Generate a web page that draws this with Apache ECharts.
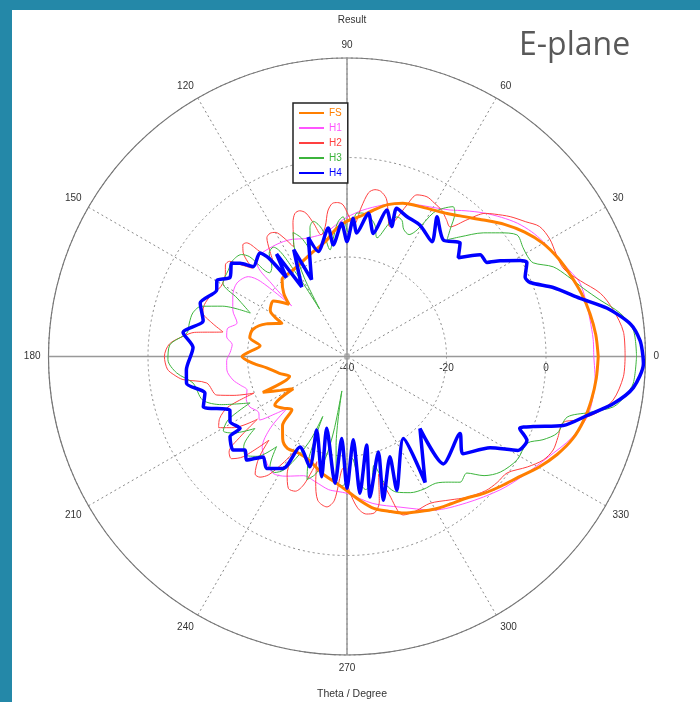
<!DOCTYPE html>
<html>
<head>
<meta charset="utf-8">
<script src="https://cdn.jsdelivr.net/npm/echarts@6/dist/echarts.min.js"></script>
<style>
html, body { margin: 0; padding: 0; background: #fff; }
#main { width: 688px; height: 692px; border-top: 10px solid #2488a8; border-left: 12px solid #2488a8; }
</style>
</head>
<body>
<div id="main"></div>
<script>
// angle in degrees, gain in dB
var fsTheta = [0,5,10,15,20,25,30,35,40,45,50,55,60,65,70,75,80,85,90,95,100,105,110,115,120,125,130,135,138,143,149,153,158,164,169,173,177,180,184,188,194,199,203,207,211,214,219,224,227,232,237,243,250,258,265,270,275,280,285,290,295,300,305,310,315,320,325,330,335,340,345,350,355,360];
var fsDb = [10.5,10.2,9.6,8.8,7.8,6.8,5.5,3.6,1.3,-1.2,-3.3,-4.9,-5.9,-6.6,-7.2,-8.4,-10.2,-11.8,-12.8,-14.3,-16.3,-17.4,-18.2,-18.9,-19.4,-19.6,-19.7,-22,-24.3,-21.5,-22,-25.3,-22.5,-20.3,-20.1,-22.4,-20.5,-18.9,-21,-23.7,-26,-27.8,-21.6,-25,-27.4,-22.5,-23.5,-24.6,-21,-19,-18,-18.3,-17.8,-16,-14.5,-13,-11,-9,-7.8,-6.5,-5.6,-4.6,-3.8,-2.8,-1.1,0.5,2.2,4.5,6.6,8.3,9.3,9.9,10.3,10.5];

var h1Theta = [0,4,8.5,13,17.5,21,25.4,30.3,34,38,42,46.5,51,54.9,60,65.2,71,77,83.8,90,95,100,105,110,115,119,124,130.6,134,136,137.5,139,141,146.3,152,157.8,163,167,170.8,174,178,182,186.4,191.6,195,198.5,203,207.5,212,216,219,221,223,227,232,237.6,243,250,256,262,266,270,280,289.4,299.3,309.3,318.9,326,333.4,340,345.9,350,354.6,360];
var h1Db = [9.6,9.6,9.4,9.3,9.1,8,6.7,5.7,4.8,3.5,1.8,-0.2,-2.3,-4,-5.4,-6.4,-7.4,-8.8,-10.4,-12,-13.5,-14.8,-15,-14.8,-14,-13.6,-13.3,-13.1,-14,-19,-24.9,-17,-14.5,-13.4,-14,-15.2,-16.9,-15.3,-15.5,-16.8,-16.5,-15.8,-15.7,-16.6,-17.8,-18.8,-18,-18,-19,-18.3,-22,-24,-19,-15,-13.5,-12.2,-13,-14.5,-14,-13,-12.8,-12.5,-10,-7.9,-4.6,-2,0.8,2.8,5.2,8,9.8,10.1,10.1,9.6];

var h2Theta = [0,5,10,14,18,22,26,30,34,37,40.6,44,46,48.7,51.5,54,57,60.4,63.4,66.6,68.4,70.5,72,74,76,78.5,80.5,82.5,84.5,87,89.5,91.5,93.5,95.5,97.5,99.5,102,104,106,108,110,112,114,116,118,120,122,124,126,128,130,131.5,133,135,137,139,141,143,146,151,156,160,163,166,168.8,171,173,176,180,184,186,188,190.7,196.5,199,201.5,203,206,209,212,215,217,219,221.5,224,227,229,232,234.2,236.5,239,241,243,246,249,251.5,254,256,258.5,262.4,265,268,271,274,277,280,282.5,285,287,289.5,294,299.5,305.7,310.5,316,320,324,328.5,332.2,335.6,339,343,344.6,347.3,350.7,355.8,360];
var h2Db = [15.9,15.8,14.3,12.5,9.3,7,6.8,7.1,6.7,5,3.2,1.2,0,-3.4,-6.7,-6,-5,-4.5,-4.1,-4.6,-7.2,-11,-12.5,-10,-7.3,-6.1,-6,-6.8,-9.8,-13.5,-11.5,-9.5,-9,-9.1,-10.5,-13.5,-15,-12.5,-10,-9.2,-9.4,-11,-13.5,-15.5,-13,-11.2,-10.8,-11.2,-13.5,-16,-12,-9.5,-9.3,-10.5,-14,-12,-9.6,-9.4,-10.5,-11,-10,-9.5,-9.7,-12,-14.6,-9,-6.8,-4.2,-3.3,-3.8,-5,-6.7,-11.3,-12.7,-16,-19.9,-14,-11.5,-10.5,-13,-18,-13,-9.5,-9,-11,-17,-13,-10,-10.1,-11.5,-15,-18,-13.5,-11,-11,-13,-18,-14,-10.5,-9.5,-11,-17.5,-13,-9.5,-8.1,-8.1,-10,-15.5,-11,-6.2,-6,-6.1,-4.5,-2.8,-1.2,-0.6,-0.2,2.5,4.6,5.5,5.4,5.4,8,11.5,14.2,15.7,15.9];

var h3Theta = [0,5.3,9,12.6,16,20,23.5,26.7,29,31.7,35.6,39,42.2,46.6,49.4,51,53,54.7,57,59,61,63,66,68,70.3,72.5,75.8,78,81,84,86,88,89.5,91.6,94,97,99,101,104,106,109,111,113.5,116,118.5,120,121.5,124,127,130,132.7,134.3,136,140,144,149.3,152,155.8,158,161,164.2,168,171.6,176.3,181,185.5,189.8,196.8,201,205.6,208,211,214,218,221,224,228,232,235,238,241,244,246.5,248,249.5,252,255,258,260,261.5,263,265,268,271,273,275.5,278,281,284,286.5,290,295,300,305,309,312,315.8,319,323,328.7,334.3,337,340,344.6,347,349.3,352,354.7,360];
var h3Db = [18.2,17.8,15.6,12.1,9.5,7.2,5.2,1.9,1.5,1.6,2,-0.5,-3,-6.9,-9.1,-7,-4,-3.1,-4.5,-6.3,-10.9,-12.5,-12,-10.5,-10.2,-12,-15.4,-13,-11.5,-11,-11.1,-14,-15,-11.9,-13,-16.5,-18.3,-14,-12,-13,-17.5,-14.5,-12.8,-16,-22,-29,-20,-13.5,-14,-16.5,-17.1,-12,-10.5,-10,-10.5,-11,-15,-18.7,-13,-9,-7.8,-7.6,-7.5,-4.3,-4,-5.6,-8.6,-9.7,-13,-18.4,-13,-11,-12.5,-16.5,-12.5,-11.5,-13,-17,-13,-12.5,-14,-18,-22,-27,-18,-14,-15.5,-19,-25,-33,-22,-15,-14,-16.5,-19.5,-15,-13,-14,-17.5,-13.5,-11,-9.8,-9.2,-8.9,-7.5,-6,-6.4,-3.5,-1.4,0,0.2,2.8,5,5.9,10,14.5,16.5,17.8,18.2];

var h4Theta = [0,3.1,6.6,10.5,14,18.5,22,24,27.6,29,32,33.9,37.4,41.6,45.1,50.5,57.2,53.4,60.9,66.9,71.5,71,74.8,77.9,81.5,85.5,87.4,90,92.3,97,98.3,105.3,108,114.8,116.5,123,124.5,127.5,128.5,130.1,136.2,138.9,141,146,149.7,153,160,166,171.7,176.7,184.8,189.5,194.5,199.3,204.6,209.1,213.9,214.4,219.4,222.5,225.9,230.1,234.3,240.3,242.5,251.4,247.6,258.1,254.2,264.6,266.3,270,274.3,275.4,282.5,279.3,288.2,284.2,293.2,290.4,304.5,301.8,315.4,311.9,325.7,320,327.5,331.2,335,337.4,339.4,342.3,346.2,350,353.8,358.6,360];
var h4Db = [19.5,19,17.3,13.2,8.3,3.7,-0.3,-0.8,0.8,-0.2,-3.7,-6.1,-6.3,-10.1,-7.8,-9.6,-6.6,-11.3,-9.8,-9.4,-8.6,-12.4,-9.5,-14.7,-10.9,-15.1,-12.2,-16.9,-13.2,-17.4,-13.9,-18.1,-14.8,-23,-16,-23.3,-15,-20,-14.6,-12.8,-13.9,-11.5,-10.2,-11.6,-9.7,-10.6,-8.6,-10.2,-6.7,-9,-7.6,-7.3,-10.5,-9.4,-14.1,-13.1,-14.1,-11.5,-10.4,-12.2,-11,-13.7,-12.3,-14.1,-19.5,-16.6,-24,-15.3,-25,-14.4,-23.5,-13.5,-23.2,-12.4,-21.8,-11.4,-19.8,-10.2,-18.1,-11.3,-20,-10.2,-19.4,-11,-12.5,-9.6,-5.9,-0.8,-0.1,-2.4,0,5.6,9.7,14.4,17.9,19.6,19.5];

// solid 0-180 and 90-270 lines through the centre
var crossH = [[20, 0], [-40, 0], [20, 180]];
var crossV = [[20, 90], [-40, 90], [20, 270]];

var names = ['FS', 'H1', 'H2', 'H3', 'H4'];
var colors = ['#ff7f00', '#ff55ff', '#ff4040', '#3cb43c', '#0000ff'];

function pairs(theta, db) {
    var out = [];
    for (var i = 0; i < theta.length; i++) {
        out.push([db[i], theta[i]]);
    }
    return out;
}

var myChart = echarts.init(document.getElementById('main'));

var curves = [
    {name: 'FS', data: pairs(fsTheta, fsDb), width: 3, z: 4, smooth: 0.3},
    {name: 'H1', data: pairs(h1Theta, h1Db), width: 1, z: 3, smooth: 0.3},
    {name: 'H2', data: pairs(h2Theta, h2Db), width: 1, z: 3, smooth: 0.3},
    {name: 'H3', data: pairs(h3Theta, h3Db), width: 1, z: 3, smooth: 0.3},
    {name: 'H4', data: pairs(h4Theta, h4Db), width: 3.5, z: 5, smooth: 0.25}
];

var series = [
    {type: 'line', coordinateSystem: 'polar', data: crossH, symbol: 'none', silent: true, z: 1,
        lineStyle: {color: '#999', width: 1.5}},
    {type: 'line', coordinateSystem: 'polar', data: crossV, symbol: 'none', silent: true, z: 1,
        lineStyle: {color: '#999', width: 1.5}}
];
for (var i = 0; i < curves.length; i++) {
    series.push({
        name: curves[i].name,
        type: 'line',
        coordinateSystem: 'polar',
        data: curves[i].data,
        symbol: 'none',
        smooth: curves[i].smooth,
        z: curves[i].z,
        lineStyle: {color: colors[i], width: curves[i].width},
        itemStyle: {color: colors[i]}
    });
}

var legendData = [];
for (i = 0; i < names.length; i++) {
    legendData.push({name: names[i], textStyle: {color: colors[i]}});
}

option = {
    animation: false,
    backgroundColor: '#fff',
    textStyle: {fontFamily: 'Liberation Sans'},
    title: [
        {text: 'Result', left: 335, top: 0, textAlign: 'center',
            textStyle: {fontSize: 10, fontWeight: 'normal', color: '#333'}},
        {text: 'Theta / Degree', left: 335, top: 674, textAlign: 'center',
            textStyle: {fontSize: 10.5, fontWeight: 'normal', color: '#333'}},
        {text: 'E-plane', left: 507, top: 20, padding: 0,
            textStyle: {fontSize: 32, fontWeight: 'normal', color: '#595959', fontFamily: 'Open Sans'}}
    ],
    legend: {
        data: legendData,
        orient: 'vertical',
        left: 281,
        top: 93,
        itemWidth: 25,
        itemHeight: 10,
        itemGap: 5,
        padding: [5, 6, 5, 5],
        borderColor: '#222',
        borderWidth: 1.5,
        backgroundColor: '#fff',
        itemStyle: {opacity: 0},
        textStyle: {fontSize: 10},
        z: 10
    },
    polar: {
        center: [335, 346.5],
        radius: 298.5
    },
    angleAxis: {
        type: 'value',
        min: 0,
        max: 360,
        interval: 30,
        startAngle: 0,
        clockwise: false,
        axisLine: {lineStyle: {color: '#777', width: 1.2}},
        axisTick: {show: false},
        axisLabel: {color: '#333', fontSize: 10, margin: 8},
        splitLine: {lineStyle: {color: '#888', type: [2, 3], width: 1}}
    },
    radiusAxis: {
        type: 'value',
        min: -40,
        max: 20,
        interval: 20,
        axisLine: {show: false},
        axisTick: {show: false},
        axisLabel: {
            color: '#333',
            fontSize: 10,
            margin: -7,
            verticalAlign: 'top',
            formatter: function (v) { return v === 20 ? '' : v; }
        },
        splitLine: {lineStyle: {color: '#888', type: [2, 3], width: 1}}
    },
    series: series
};
myChart.setOption(option);
</script>
</body>
</html>
